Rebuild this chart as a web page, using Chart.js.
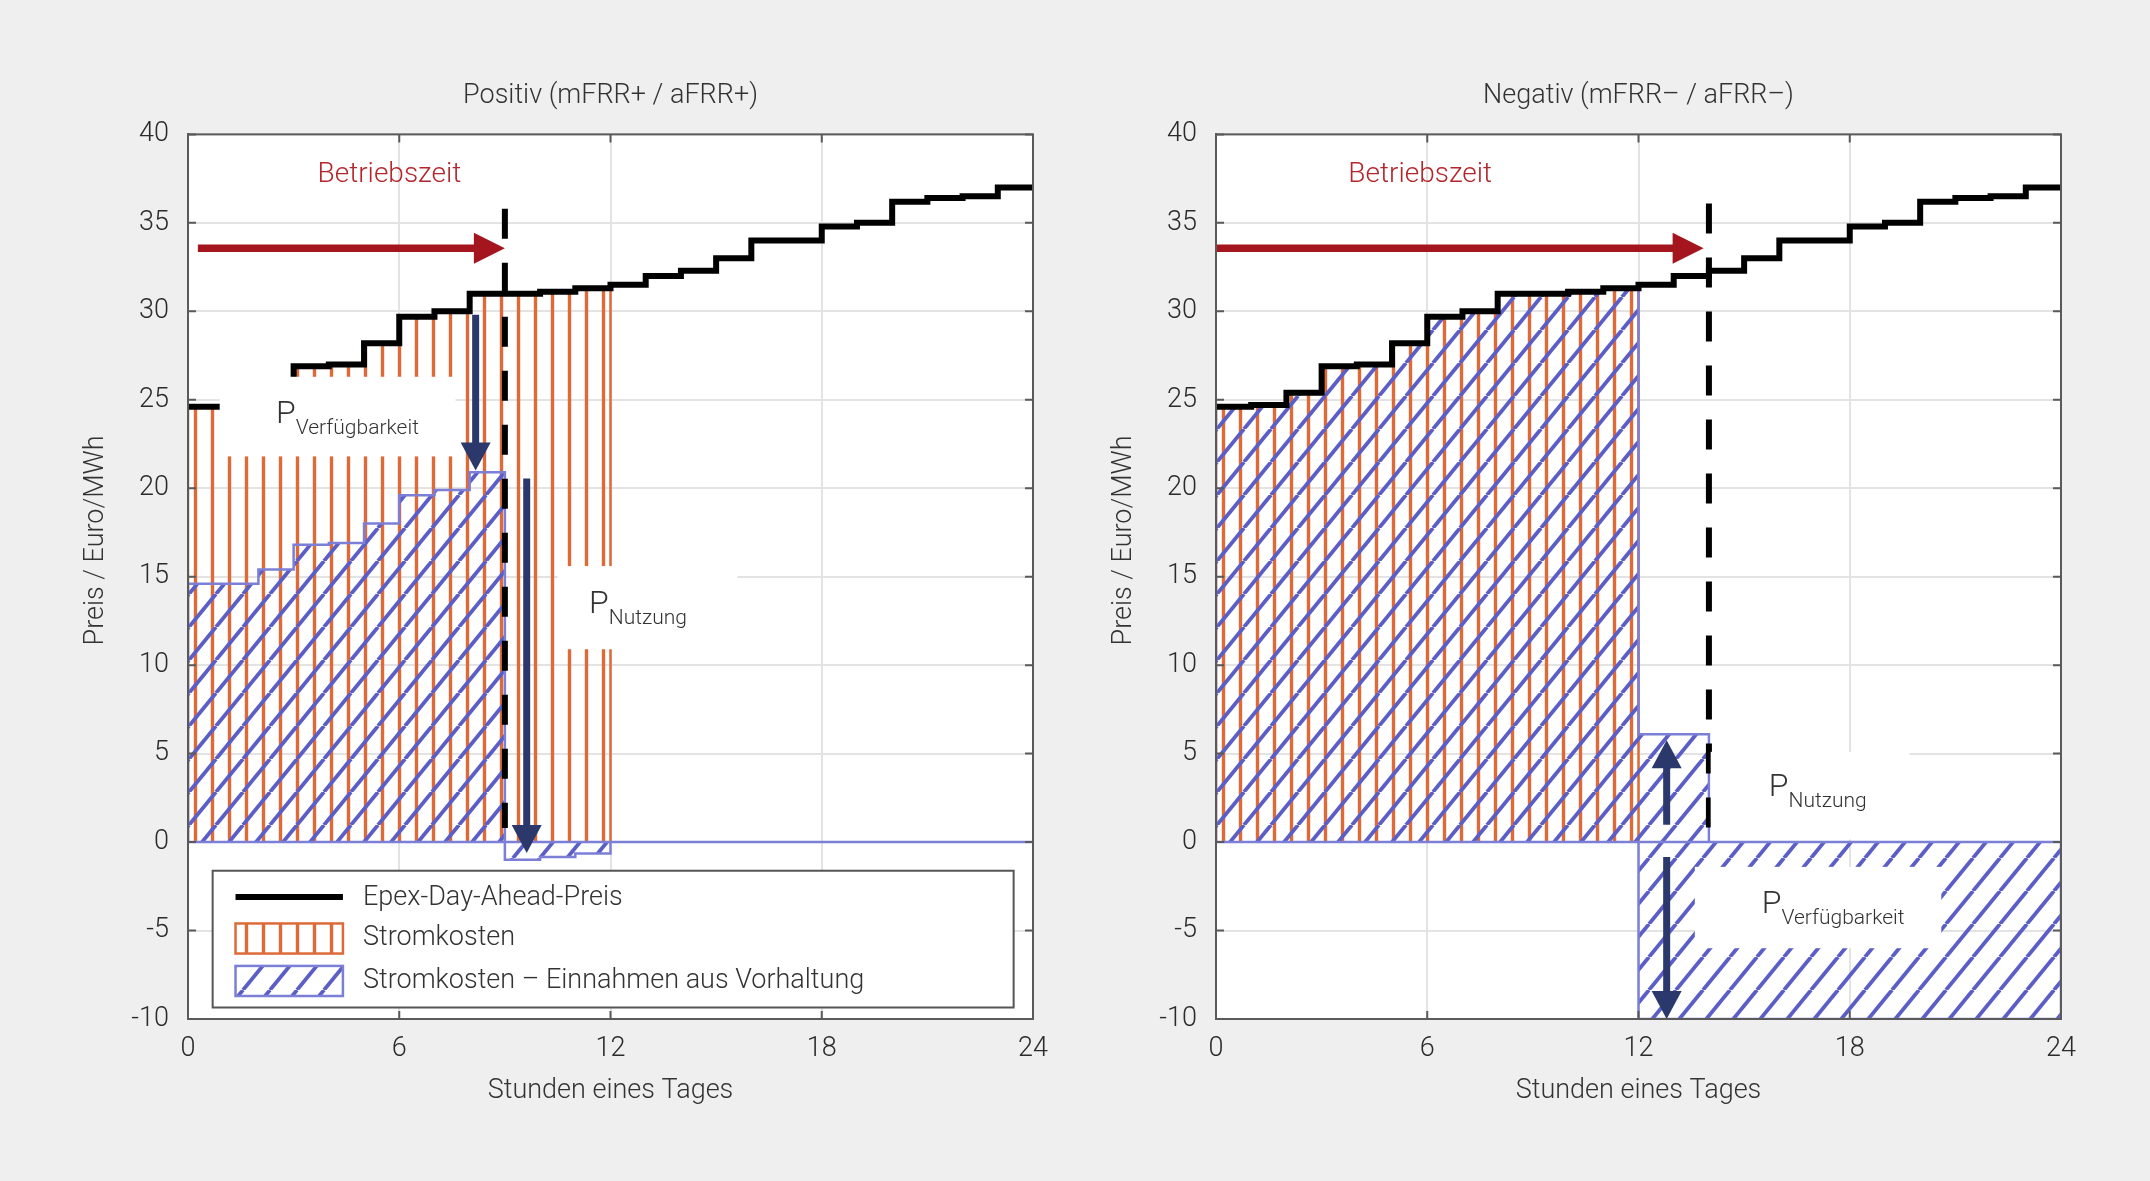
<!DOCTYPE html>
<html>
<head>
<meta charset="utf-8">
<script src="https://cdn.jsdelivr.net/npm/chart.js@4.4.1/dist/chart.umd.min.js"></script>
<style>
  html, body { margin: 0; padding: 0; background: #efefef; }
  body { width: 2150px; height: 1181px; position: relative; overflow: hidden; }
  canvas { position: absolute; top: 0; }
  #chartPos { left: 0; }
  #chartNeg { left: 1028px; }
</style>
</head>
<body>
<canvas id="chartPos" width="1075" height="1181"></canvas>
<canvas id="chartNeg" width="1075" height="1181"></canvas>
<script>
'use strict';

// Stundenwerte (je Stunde ein Wert, Stufe gilt bis zur nächsten Stunde)
const epexPreis = [24.6, 24.7, 25.4, 26.9, 27.0, 28.2, 29.7, 30.0, 31.0, 31.0, 31.1, 31.3,
                   31.5, 32.0, 32.3, 33.0, 34.0, 34.0, 34.8, 35.0, 36.2, 36.4, 36.5, 37.0];
const stromkosten = [24.6, 24.7, 25.4, 26.9, 27.0, 28.2, 29.7, 30.0, 31.0, 31.0, 31.1, 31.3]; // 0-12 h
const nettoPositiv = [14.6, 14.6, 15.4, 16.8, 16.9, 18.0, 19.6, 19.9, 20.9, -1.0, -0.85, -0.65]; // 0-12 h
const nettoNegativOben = [24.6, 24.7, 25.4, 26.9, 27.0, 28.2, 29.7, 30.0, 31.0, 31.0, 31.1, 31.3, 6.1, 6.1]; // 0-14 h
const nettoNegativUnten = [-10, -10, -10, -10, -10, -10, -10, -10, -10, -10, -10, -10]; // 12-24 h
const nettoNegativStart = 12;

const xTicks = [0, 6, 12, 18, 24];
const yTicks = [-10, -5, 0, 5, 10, 15, 20, 25, 30, 35, 40];

const titel = ['Positiv (mFRR+ / aFRR+)', 'Negativ (mFRR– / aFRR–)'];
const yTitel = 'Preis / Euro/MWh';
const legendeTexte = ['Epex-Day-Ahead-Preis', 'Stromkosten', 'Stromkosten – Einnahmen aus Vorhaltung'];

// Ende der Betriebszeit (gestrichelte Linie): Stunde, oberes und unteres Ende
const betriebsendePos = [9, 35.8, 0.8];
const betriebsendeNeg = [14, 36.1, 0];

const FONT = 'Roboto';
const ORANGE = '#dd6b3a';
const BLAU = '#5a5ec6';
const BLAU_RAND = '#7b7fd6';
const NAVY = '#2b386b';
const ROT = '#a5151d';

// Beschriftungen in Achsen-Einheiten
const beschriftung = {
  chartPos: {
    boxen: [[0.9, 7.6, 21.8, 26.3], [10.5, 15.6, 10.9, 15.6]],
    rotPfeil: [0.28, 9.0, 33.57],
    pfeile: [[8.17, 29.8, 21.0], [9.62, 20.55, -0.62]],
    betrieb: [5.72, 37.7],
    pLabels: [['Verfügbarkeit', 2.5, 23.67], ['Nutzung', 11.39, 12.96]],
    legende: [0.7, 23.45, -1.62, -9.35]
  },
  chartNeg: {
    boxen: [[14.05, 19.7, 0.15, 5.1], [13.6, 20.6, -1.4, -6.0]],
    rotPfeil: [0, 13.85, 33.57],
    pfeile: [[12.8, 0.98, 5.75], [12.8, -0.85, -10]],
    betrieb: [5.8, 37.7],
    pLabels: [['Nutzung', 15.7, 2.6], ['Verfügbarkeit', 15.5, -4.0]],
    legende: null
  }
};

// Schraffuren
function vertikalMuster(farbe, abstand, breite) {
  const c = document.createElement('canvas');
  c.width = abstand;
  c.height = 8;
  const g = c.getContext('2d');
  g.fillStyle = farbe;
  g.fillRect((abstand - breite) / 2, 0, breite, 8);
  return g.createPattern(c, 'repeat');
}

function diagonalMuster(farbe, w, h, breite) {
  const c = document.createElement('canvas');
  c.width = w;
  c.height = h;
  const g = c.getContext('2d');
  g.strokeStyle = farbe;
  g.lineWidth = breite;
  for (const dx of [-w, 0, w]) {
    g.beginPath();
    g.moveTo(dx, h);
    g.lineTo(dx + w, 0);
    g.stroke();
  }
  return g.createPattern(c, 'repeat');
}

const orangeMuster = vertikalMuster(ORANGE, 17, 3.4);
const blauMuster = diagonalMuster(BLAU, 27, 33, 3.8);

// Stufenpunkte aus Stundenwerten
function stufen(start, werte, schliessen) {
  const pts = [];
  if (schliessen) pts.push({ x: start, y: 0 });
  werte.forEach((v, i) => pts.push({ x: start + i, y: v }));
  pts.push({ x: start + werte.length, y: werte[werte.length - 1] });
  if (schliessen) pts.push({ x: start + werte.length, y: 0 });
  return pts;
}

function linie(data, farbe, breite, extra) {
  return Object.assign({
    data: data,
    borderColor: farbe,
    borderWidth: breite,
    pointRadius: 0,
    stepped: true,
    fill: false,
    tension: 0
  }, extra || {});
}

function flaeche(data, muster, rand) {
  return linie(data, rand, 2.5, { backgroundColor: muster, fill: 'origin' });
}

function gestrichelt(pos) {
  return linie([{ x: pos[0], y: pos[1] }, { x: pos[0], y: pos[2] }], '#000', 6,
    { stepped: false, borderDash: [30, 24], borderCapStyle: 'butt' });
}

const nullLinie = [{ x: xTicks[0], y: 0 }, { x: xTicks[xTicks.length - 1], y: 0 }];

function pfeil(ctx, x1, y1, x2, y2, farbe, schaft, kopfL, kopfB) {
  const dx = x2 - x1, dy = y2 - y1;
  const len = Math.hypot(dx, dy);
  const ux = dx / len, uy = dy / len;
  const bx = x2 - ux * kopfL, by = y2 - uy * kopfL;
  ctx.strokeStyle = farbe;
  ctx.fillStyle = farbe;
  ctx.lineWidth = schaft;
  ctx.lineCap = 'butt';
  ctx.beginPath();
  ctx.moveTo(x1, y1);
  ctx.lineTo(bx + ux, by + uy);
  ctx.stroke();
  ctx.beginPath();
  ctx.moveTo(x2, y2);
  ctx.lineTo(bx - uy * kopfB / 2, by + ux * kopfB / 2);
  ctx.lineTo(bx + uy * kopfB / 2, by - ux * kopfB / 2);
  ctx.closePath();
  ctx.fill();
}

function pText(ctx, sub, x, y) {
  ctx.fillStyle = '#333';
  ctx.textAlign = 'left';
  ctx.textBaseline = 'alphabetic';
  ctx.font = `300 32px ${FONT}`;
  ctx.fillText('P', x, y);
  const w = ctx.measureText('P').width;
  ctx.font = `300 21px ${FONT}`;
  ctx.fillText(sub, x + w, y + 11);
}

const annotPlugin = {
  id: 'annot',
  beforeDraw(chart) {
    const { ctx, chartArea: a } = chart;
    ctx.save();
    ctx.fillStyle = '#ffffff';
    ctx.fillRect(a.left, a.top, a.width, a.height);
    ctx.restore();
  },
  afterDatasetsDraw(chart) {
    const cfg = beschriftung[chart.canvas.id];
    const ctx = chart.ctx;
    const px = (v) => chart.scales.x.getPixelForValue(v);
    const py = (v) => chart.scales.y.getPixelForValue(v);
    ctx.save();

    // weiße Beschriftungsflächen
    ctx.fillStyle = '#ffffff';
    cfg.boxen.forEach(([x0, x1, y0, y1]) => {
      ctx.fillRect(px(x0), py(y1), px(x1) - px(x0), py(y0) - py(y1));
    });

    // Betriebszeit-Pfeil
    const [rx0, rx1, ry] = cfg.rotPfeil;
    pfeil(ctx, px(rx0), py(ry), px(rx1), py(ry), ROT, 7.5, 31, 31);
    ctx.fillStyle = '#b3262c';
    ctx.font = `300 28px ${FONT}`;
    ctx.textAlign = 'center';
    ctx.textBaseline = 'middle';
    ctx.fillText('Betriebszeit', px(cfg.betrieb[0]), py(cfg.betrieb[1]));

    // Preis-Pfeile
    cfg.pfeile.forEach(([x, y0, y1]) => {
      pfeil(ctx, px(x), py(y0), px(x), py(y1), NAVY, 7, 28, 30);
    });

    cfg.pLabels.forEach(([sub, x, y]) => pText(ctx, sub, px(x), py(y)));

    // Legende
    if (cfg.legende) {
      const [lx0, lx1, ly0, ly1] = cfg.legende;
      const L = px(lx0), R = px(lx1), T = py(ly0), B = py(ly1);
      ctx.fillStyle = '#ffffff';
      ctx.fillRect(L, T, R - L, B - T);
      ctx.strokeStyle = '#555';
      ctx.lineWidth = 2;
      ctx.strokeRect(L, T, R - L, B - T);

      const sx0 = px(1.35), sx1 = px(4.4), tx = px(4.97);
      ctx.strokeStyle = '#000';
      ctx.lineWidth = 6;
      ctx.beginPath();
      ctx.moveTo(sx0, py(-3.1));
      ctx.lineTo(sx1, py(-3.1));
      ctx.stroke();

      const boxen = [[-4.6, -6.3, orangeMuster, ORANGE], [-7.0, -8.7, blauMuster, BLAU_RAND]];
      boxen.forEach(([a, b, muster, rand]) => {
        ctx.fillStyle = muster;
        ctx.fillRect(sx0, py(a), sx1 - sx0, py(b) - py(a));
        ctx.strokeStyle = rand;
        ctx.lineWidth = 2.5;
        ctx.strokeRect(sx0, py(a), sx1 - sx0, py(b) - py(a));
      });

      ctx.fillStyle = '#333';
      ctx.font = `300 27px ${FONT}`;
      ctx.textAlign = 'left';
      ctx.textBaseline = 'middle';
      [-3.15, -5.45, -7.85].forEach((y, i) => ctx.fillText(legendeTexte[i], tx, py(y)));
    }
    ctx.restore();
  },
  afterDraw(chart) {
    const { ctx, chartArea: a } = chart;
    const xs = chart.scales.x, ys = chart.scales.y;
    ctx.save();
    ctx.strokeStyle = '#5a5a5a';
    ctx.lineWidth = 2;
    ctx.strokeRect(a.left, a.top, a.width, a.height);
    ctx.beginPath();
    xTicks.forEach((t) => {
      const x = xs.getPixelForValue(t);
      ctx.moveTo(x, a.top); ctx.lineTo(x, a.top + 8);
      ctx.moveTo(x, a.bottom); ctx.lineTo(x, a.bottom - 8);
    });
    yTicks.forEach((t) => {
      const y = ys.getPixelForValue(t);
      ctx.moveTo(a.left, y); ctx.lineTo(a.left + 8, y);
      ctx.moveTo(a.right, y); ctx.lineTo(a.right - 8, y);
    });
    ctx.stroke();

    // y-Achsentitel (etwas oberhalb der Mitte, wie im Original)
    ctx.translate(a.left - 92, ys.getPixelForValue(17.05));
    ctx.rotate(-Math.PI / 2);
    ctx.fillStyle = '#333';
    ctx.font = `300 27px ${FONT}`;
    ctx.textAlign = 'center';
    ctx.textBaseline = 'middle';
    ctx.fillText(yTitel, 0, 0);
    ctx.restore();
  }
};

function optionen(text) {
  const tickFont = { family: FONT, size: 27, weight: '300' };
  return {
    responsive: false,
    animation: false,
    devicePixelRatio: 1,
    layout: { padding: { left: 60, right: 42, top: 20, bottom: 60 } },
    plugins: {
      legend: { display: false },
      tooltip: { enabled: false },
      title: {
        display: true,
        fullSize: false,
        text: text,
        color: '#333',
        font: { family: FONT, size: 27, weight: '300' },
        padding: { top: 60, bottom: 22 }
      }
    },
    scales: {
      x: {
        type: 'linear',
        min: xTicks[0],
        max: xTicks[xTicks.length - 1],
        afterFit: (axis) => { axis.height = 102; },
        afterBuildTicks: (axis) => { axis.ticks = xTicks.map((v) => ({ value: v })); },
        ticks: { font: tickFont, color: '#2b2b2b', padding: 14 },
        grid: { color: '#e3e3e3', lineWidth: 2, drawTicks: false },
        border: { display: true, color: '#5a5a5a', width: 2 },
        title: {
          display: true,
          text: 'Stunden eines Tages',
          color: '#333',
          font: tickFont,
          padding: { top: 0, bottom: 14 }
        }
      },
      y: {
        type: 'linear',
        min: yTicks[0],
        max: yTicks[yTicks.length - 1],
        afterFit: (axis) => { axis.width = 128; },
        afterBuildTicks: (axis) => { axis.ticks = yTicks.map((v) => ({ value: v })); },
        ticks: { font: tickFont, color: '#2b2b2b', padding: 19 },
        grid: { color: '#e3e3e3', lineWidth: 2, drawTicks: false },
        border: { display: true, color: '#5a5a5a', width: 2 },
        title: { display: false }
      }
    }
  };
}

Chart.defaults.font.family = FONT;

new Chart(document.getElementById('chartPos'), {
  type: 'line',
  data: {
    datasets: [
      linie(stufen(0, epexPreis, false), '#000', 6, { borderJoinStyle: 'miter' }),
      gestrichelt(betriebsendePos),
      linie(nullLinie, BLAU_RAND, 2.5, { stepped: false }),
      flaeche(stufen(0, nettoPositiv, true), blauMuster, BLAU_RAND),
      flaeche(stufen(0, stromkosten, true), orangeMuster, ORANGE)
    ]
  },
  options: optionen(titel[0]),
  plugins: [annotPlugin]
});

new Chart(document.getElementById('chartNeg'), {
  type: 'line',
  data: {
    datasets: [
      linie(stufen(0, epexPreis, false), '#000', 6, { borderJoinStyle: 'miter' }),
      gestrichelt(betriebsendeNeg),
      linie(nullLinie, BLAU_RAND, 2.5, { stepped: false }),
      flaeche(stufen(0, nettoNegativOben, true), blauMuster, BLAU_RAND),
      flaeche(stufen(nettoNegativStart, nettoNegativUnten, true), blauMuster, BLAU_RAND),
      flaeche(stufen(0, stromkosten, true), orangeMuster, ORANGE)
    ]
  },
  options: optionen(titel[1]),
  plugins: [annotPlugin]
});
</script>
</body>
</html>
